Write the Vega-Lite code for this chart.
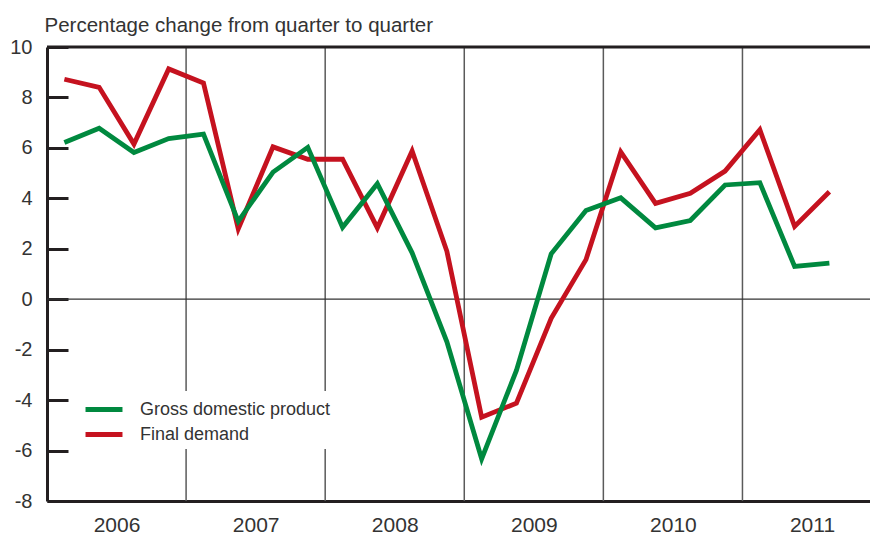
{
  "$schema": "https://vega.github.io/schema/vega-lite/v6.json",
  "width": 823,
  "height": 454,
  "autosize": {"type": "none"},
  "padding": {"left": 47, "top": 47, "right": 0, "bottom": 37},
  "background": "white",
  "config": {
    "view": {"stroke": null},
    "axis": {"labelFont": "Liberation Sans", "labelColor": "#333333", "titleFont": "Liberation Sans"},
    "legend": {"labelFont": "Liberation Sans", "labelColor": "#333333"}
  },
  "layer": [
    {
      "data": {"values": [{"yr": 2007}, {"yr": 2008}, {"yr": 2009}, {"yr": 2010}, {"yr": 2011}]},
      "mark": {"type": "rule", "color": "#5a5a5a", "strokeWidth": 1.5},
      "encoding": {
        "x": {
          "field": "yr", "type": "quantitative",
          "scale": {"domain": [2006, 2011.917], "nice": false, "zero": false},
          "axis": {
            "title": null,
            "values": [2006.5, 2007.5, 2008.5, 2009.5, 2010.5, 2011.5],
            "labelExpr": "floor(datum.value)",
            "ticks": false,
            "grid": false,
            "domainWidth": 3,
            "domainColor": "#231f20",
            "labelFontSize": 21,
            "labelPadding": 13
          }
        }
      }
    },
    {
      "data": {"values": [{"v": 0}]},
      "mark": {"type": "rule", "color": "#333333", "strokeWidth": 1.2},
      "encoding": {"y": {"field": "v", "type": "quantitative"}}
    },
    {
      "data": {"values": [{"v": 10}]},
      "mark": {"type": "rule", "color": "#231f20", "strokeWidth": 3},
      "encoding": {"y": {"field": "v", "type": "quantitative"}}
    },
    {
      "data": {
        "values": [
          {"t": 2006.125, "series": "Final demand", "value": 8.72},
          {"t": 2006.375, "series": "Final demand", "value": 8.4},
          {"t": 2006.625, "series": "Final demand", "value": 6.15},
          {"t": 2006.875, "series": "Final demand", "value": 9.13},
          {"t": 2007.125, "series": "Final demand", "value": 8.57},
          {"t": 2007.375, "series": "Final demand", "value": 2.79},
          {"t": 2007.625, "series": "Final demand", "value": 6.04},
          {"t": 2007.875, "series": "Final demand", "value": 5.55},
          {"t": 2008.125, "series": "Final demand", "value": 5.55},
          {"t": 2008.375, "series": "Final demand", "value": 2.83},
          {"t": 2008.625, "series": "Final demand", "value": 5.88},
          {"t": 2008.875, "series": "Final demand", "value": 1.9},
          {"t": 2009.125, "series": "Final demand", "value": -4.68},
          {"t": 2009.375, "series": "Final demand", "value": -4.12},
          {"t": 2009.625, "series": "Final demand", "value": -0.76},
          {"t": 2009.875, "series": "Final demand", "value": 1.57},
          {"t": 2010.125, "series": "Final demand", "value": 5.84},
          {"t": 2010.375, "series": "Final demand", "value": 3.8},
          {"t": 2010.625, "series": "Final demand", "value": 4.2},
          {"t": 2010.875, "series": "Final demand", "value": 5.08},
          {"t": 2011.125, "series": "Final demand", "value": 6.72},
          {"t": 2011.375, "series": "Final demand", "value": 2.89},
          {"t": 2011.625, "series": "Final demand", "value": 4.26},
          {"t": 2006.125, "series": "Gross domestic product", "value": 6.21},
          {"t": 2006.375, "series": "Gross domestic product", "value": 6.78},
          {"t": 2006.625, "series": "Gross domestic product", "value": 5.82},
          {"t": 2006.875, "series": "Gross domestic product", "value": 6.37},
          {"t": 2007.125, "series": "Gross domestic product", "value": 6.55},
          {"t": 2007.375, "series": "Gross domestic product", "value": 3.09},
          {"t": 2007.625, "series": "Gross domestic product", "value": 5.04},
          {"t": 2007.875, "series": "Gross domestic product", "value": 6.02},
          {"t": 2008.125, "series": "Gross domestic product", "value": 2.85},
          {"t": 2008.375, "series": "Gross domestic product", "value": 4.58},
          {"t": 2008.625, "series": "Gross domestic product", "value": 1.84},
          {"t": 2008.875, "series": "Gross domestic product", "value": -1.69},
          {"t": 2009.125, "series": "Gross domestic product", "value": -6.33},
          {"t": 2009.375, "series": "Gross domestic product", "value": -2.82},
          {"t": 2009.625, "series": "Gross domestic product", "value": 1.8},
          {"t": 2009.875, "series": "Gross domestic product", "value": 3.52},
          {"t": 2010.125, "series": "Gross domestic product", "value": 4.02},
          {"t": 2010.375, "series": "Gross domestic product", "value": 2.83},
          {"t": 2010.625, "series": "Gross domestic product", "value": 3.12},
          {"t": 2010.875, "series": "Gross domestic product", "value": 4.53},
          {"t": 2011.125, "series": "Gross domestic product", "value": 4.62},
          {"t": 2011.375, "series": "Gross domestic product", "value": 1.3},
          {"t": 2011.625, "series": "Gross domestic product", "value": 1.43}
        ]
      },
      "mark": {"type": "line", "strokeWidth": 4.8, "strokeJoin": "miter", "strokeCap": "butt"},
      "encoding": {
        "x": {
          "field": "t", "type": "quantitative",
          "scale": {"domain": [2006, 2011.917], "nice": false, "zero": false},
          "axis": {
            "title": null,
            "values": [2006.5, 2007.5, 2008.5, 2009.5, 2010.5, 2011.5],
            "labelExpr": "floor(datum.value)",
            "ticks": false,
            "grid": false,
            "domainWidth": 3,
            "domainColor": "#231f20",
            "labelFontSize": 21,
            "labelPadding": 13
          }
        },
        "y": {
          "field": "value", "type": "quantitative",
          "scale": {"domain": [-8, 10], "nice": false, "zero": false},
          "axis": {
            "title": "Percentage change from quarter to quarter",
            "titleAngle": 0,
            "titleAlign": "left",
            "titleBaseline": "alphabetic",
            "titleX": -3,
            "titleY": -16,
            "titleFontSize": 20.5,
            "titleFontWeight": "normal",
            "titleColor": "#333333",
            "values": [-8, -6, -4, -2, 0, 2, 4, 6, 8, 10],
            "labelExpr": "datum.value < 0 ? '-' + abs(datum.value) : '' + datum.value",
            "grid": false,
            "domainWidth": 3,
            "domainColor": "#231f20",
            "tickSize": -21,
            "tickWidth": 3,
            "tickColor": "#231f20",
            "labelPadding": 36,
            "labelFontSize": 20
          }
        },
        "color": {
          "field": "series", "type": "nominal",
          "scale": {"domain": ["Gross domestic product", "Final demand"], "range": ["#00893f", "#c5121f"]},
          "legend": {
            "title": null,
            "orient": "none",
            "legendX": 38.5,
            "legendY": 344,
            "symbolType": "M-1.54,0H1.54",
            "symbolSize": 576,
            "symbolStrokeWidth": 5,
            "labelFontSize": 18,
            "labelOffset": 21.5,
            "labelLimit": 500,
            "rowPadding": 0,
            "fillColor": "white",
            "padding": 4
          }
        }
      }
    }
  ]
}
